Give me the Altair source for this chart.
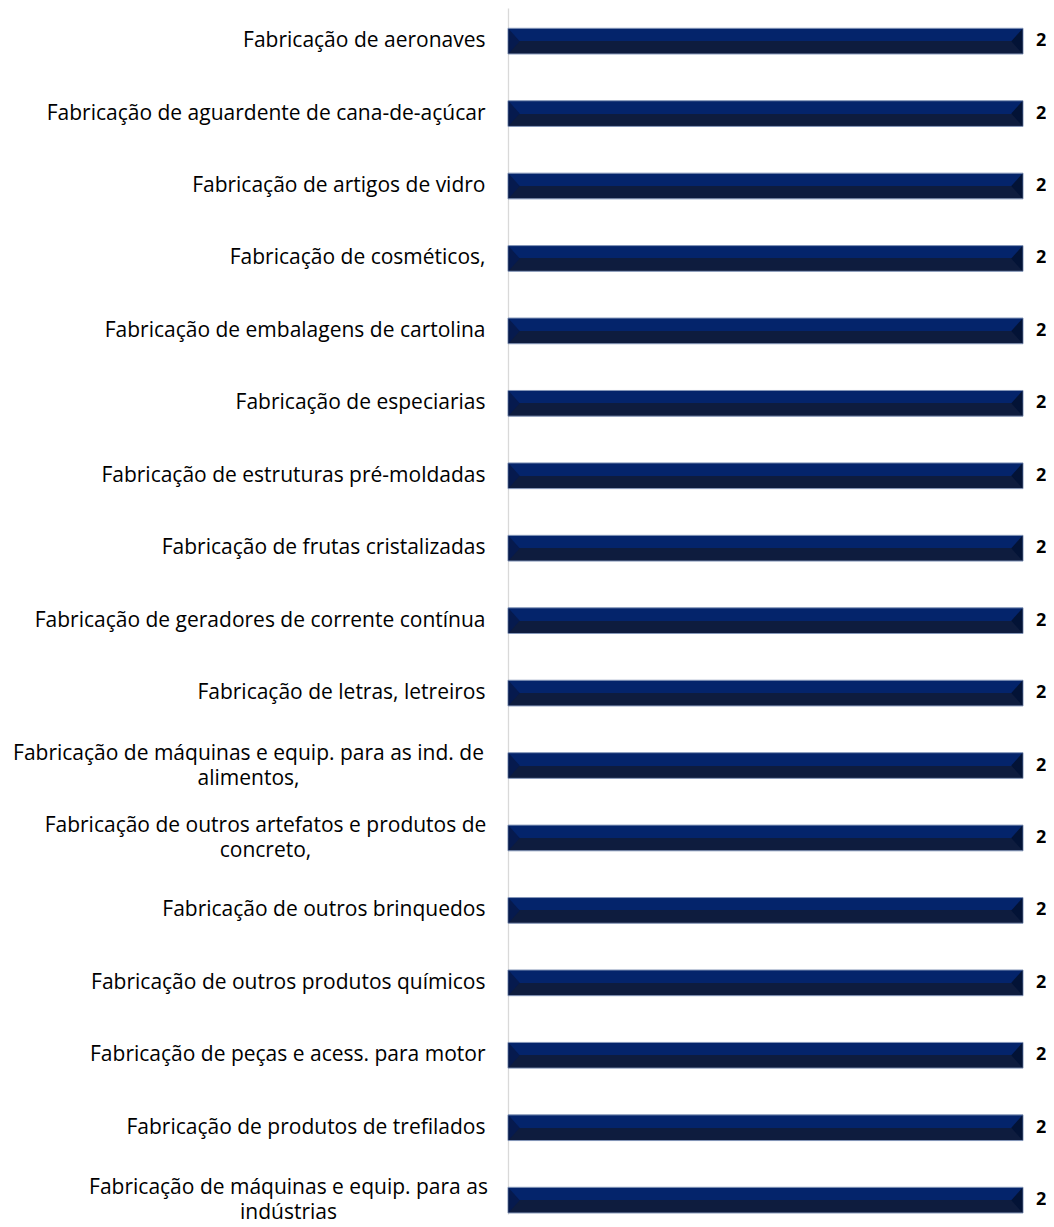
import altair as alt
import pandas as pd

categories = [
    "Fabricação de aeronaves",
    "Fabricação de aguardente de cana-de-açúcar",
    "Fabricação de artigos de vidro",
    "Fabricação de cosméticos,",
    "Fabricação de embalagens de cartolina",
    "Fabricação de especiarias",
    "Fabricação de estruturas pré-moldadas",
    "Fabricação de frutas cristalizadas",
    "Fabricação de geradores de corrente contínua",
    "Fabricação de letras, letreiros",
    "Fabricação de máquinas e equip. para as ind. de\nalimentos,",
    "Fabricação de outros artefatos e produtos de\nconcreto,",
    "Fabricação de outros brinquedos",
    "Fabricação de outros produtos químicos",
    "Fabricação de peças e acess. para motor",
    "Fabricação de produtos de trefilados",
    "Fabricação de máquinas e equip. para as\nindústrias",
]
values = [2, 2, 2, 2, 2, 2, 2, 2, 2, 2, 2, 2, 2, 2, 2, 2, 2]

df = pd.DataFrame({"categoria": categories, "valor": values})

TOP = "#04246B"
BOT = "#0E1C3E"
BEVEL_L = "#061A4E"
BEVEL_R = "#031336"
FONT = "Open Sans"

bar_fill = alt.LinearGradient(
    gradient="linear",
    x1=0, x2=0, y1=0, y2=1,
    stops=[
        alt.GradientStop(color=TOP, offset=0),
        alt.GradientStop(color=TOP, offset=0.5),
        alt.GradientStop(color=BOT, offset=0.5),
        alt.GradientStop(color=BOT, offset=1),
    ],
)

MULTI = "indexof(datum.value, '\\n') >= 0"

y_axis = alt.Axis(
    title=None,
    ticks=False,
    grid=False,
    domainColor="#D9D9D9",
    domainWidth=1.3,
    labelFont=FONT,
    labelFontSize=21,
    labelColor="#000000",
    labelLimit=0,
    labelOverlap=False,
    labelLineHeight=25,
    labelExpr="split(datum.label, '\\n')",
    labelBaseline={
        "condition": {"test": MULTI, "value": "line-bottom"},
        "value": "middle",
    },
    labelAlign={
        "condition": {"test": MULTI, "value": "center"},
        "value": "right",
    },
    labelPadding={
        "condition": [
            {"test": "indexof(datum.value, 'alimentos') >= 0", "value": 260},
            {"test": "indexof(datum.value, 'concreto') >= 0", "value": 243},
            {"test": "indexof(datum.value, 'indústrias') >= 0", "value": 220},
        ],
        "value": 23,
    },
)

x_scale = alt.Scale(domain=[0, 2], nice=False, zero=True)

y_enc = alt.Y(
    "categoria:N",
    sort=None,
    scale=alt.Scale(paddingInner=0.6452, paddingOuter=0.147, align=0.953, round=False),
    axis=y_axis,
)
x_enc = alt.X("valor:Q", scale=x_scale, axis=None)

base = alt.Chart(df)

bars = base.mark_bar(
    color=bar_fill,
    stroke="#8496B8",
    strokeWidth=1,
).encode(y=y_enc, x=x_enc)

# bevel shading at both ends of each bar
bevel_left = base.transform_calculate(inicio="0").mark_point(
    shape="M0.04,-0.96L0.04,0.96L0.9,0Z",
    size=676,
    filled=True,
    opacity=1,
    strokeWidth=0,
    color=BEVEL_L,
).encode(y=y_enc, x=alt.X("inicio:Q", scale=x_scale, axis=None))

bevel_right = base.mark_point(
    shape="M-0.04,-0.96L-0.04,0.96L-0.9,0Z",
    size=676,
    filled=True,
    opacity=1,
    strokeWidth=0,
    color=BEVEL_R,
).encode(y=y_enc, x=x_enc)

labels = base.mark_text(
    align="left",
    baseline="middle",
    dx=13,
    font=FONT,
    fontSize=18,
    fontWeight="bold",
    color="#000000",
).encode(y=y_enc, x=x_enc, text=alt.Text("valor:Q"))

chart = (
    alt.layer(bars, bevel_left, bevel_right, labels)
    .properties(
        width=515,
        height=1206,
        padding={"left": 500, "top": 0, "right": 23, "bottom": 5},
        autosize=alt.AutoSizeParams(type="none"),
        background="white",
    )
    .configure_view(stroke=None)
)

chart.save("out.html", embed_options={"renderer": "svg", "actions": False})
